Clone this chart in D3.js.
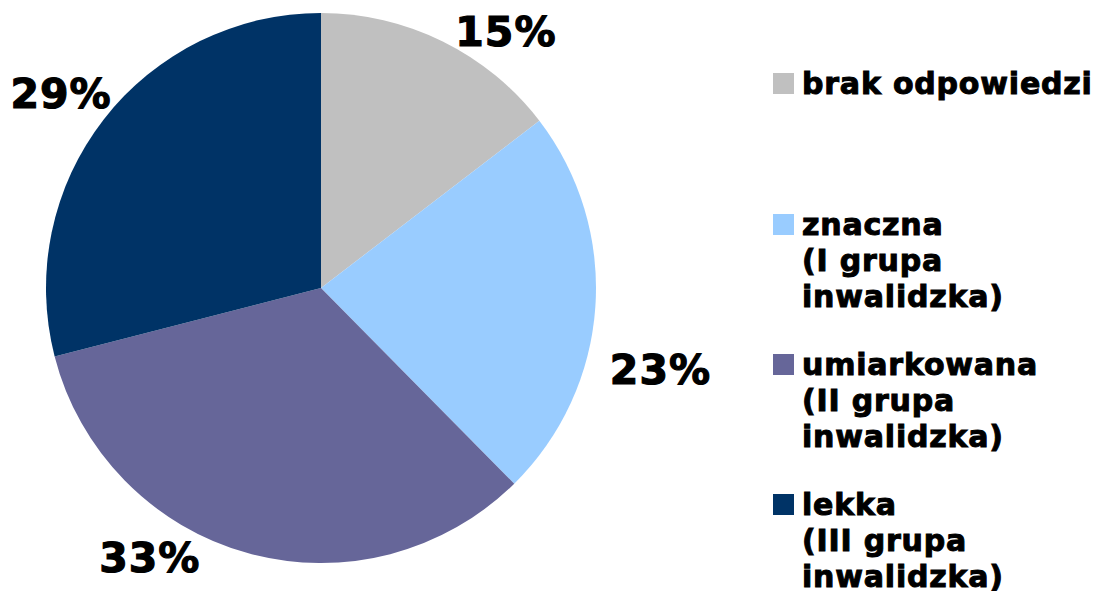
<!DOCTYPE html>
<html>
<head>
<meta charset="utf-8">
<script src="https://cdn.jsdelivr.net/npm/d3@7"></script>
<style>
  body { margin: 0; background: #fff; }
  svg { display: block; font-family: "DejaVu Sans", Verdana, sans-serif; font-weight: bold; }
</style>
</head>
<body>
<svg width="1100" height="591"></svg>
<script>
// data (labels are rounded percentages)
const categories = ['brak odpowiedzi', 'znaczna', 'umiarkowana', 'lekka'];
const subLines = [[], ['(I grupa', 'inwalidzka)'], ['(II grupa', 'inwalidzka)'], ['(III grupa', 'inwalidzka)']];
const values = [14.6, 23.0, 33.4, 29.0];
const colors = ['#C0C0C0', '#99CCFF', '#666699', '#003366'];

const svg = d3.select('svg');
const cx = 321, cy = 288, radius = 275;

const pie = d3.pie().sort(null).value(d => d);
const arcs = pie(values);
const arc = d3.arc().innerRadius(0).outerRadius(radius);

const g = svg.append('g').attr('transform', `translate(${cx},${cy})`);
g.selectAll('path')
  .data(arcs)
  .enter()
  .append('path')
  .attr('d', arc)
  .attr('fill', (d, i) => colors[i]);

// excel "best fit" labels sit a bit off the mid angle; angle shift (deg) and distance per slice
const labelShift = [9.4, 9.5, 17.0, -0.9];
const labelDist = [317, 349, 319, 325];
g.selectAll('text.pct')
  .data(arcs)
  .enter()
  .append('text')
  .attr('class', 'pct')
  .attr('text-anchor', 'middle')
  .attr('font-size', 41)
  .attr('fill', '#000')
  .attr('stroke', '#000')
  .attr('stroke-width', 1.2)
  .attr('letter-spacing', 1)
  .attr('transform', (d, i) => {
    const a = (d.startAngle + d.endAngle) / 2 + labelShift[i] * Math.PI / 180;
    const x = Math.sin(a) * labelDist[i];
    const y = -Math.cos(a) * labelDist[i];
    return `translate(${x},${y + 15})`;
  })
  .text(d => d3.format('.0f')(d.value) + '%');

// legend
const legendY = [94, 235, 375, 515];
const lineH = 36;
const legend = svg.append('g').attr('transform', 'translate(773,0)');
const item = legend.selectAll('g')
  .data(categories)
  .enter()
  .append('g')
  .attr('transform', (d, i) => `translate(0,${legendY[i]})`);

item.append('rect')
  .attr('x', 0)
  .attr('y', -21)
  .attr('width', 21)
  .attr('height', 21)
  .attr('fill', (d, i) => colors[i]);

item.each(function(d, i) {
  const t = d3.select(this).append('text')
    .attr('x', 29)
    .attr('font-size', 30)
    .attr('fill', '#000')
    .attr('stroke', '#000')
    .attr('stroke-width', 1)
    .attr('letter-spacing', 0.8);
  [d].concat(subLines[i]).forEach((line, j) => {
    t.append('tspan').attr('x', 29).attr('y', j * lineH).text(line);
  });
});
</script>
</body>
</html>
